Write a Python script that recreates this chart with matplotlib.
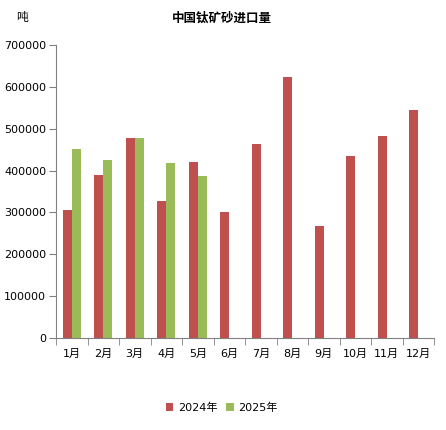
import matplotlib
matplotlib.use('Agg')
import matplotlib.pyplot as plt
import numpy as np

plt.rcParams['font.family'] = ['DejaVu Sans', 'Noto Sans CJK SC']

#
# Monthly import of titanium ore sand (tonnes)
#
months = ['1月', '2月', '3月', '4月', '5月', '6月',
          '7月', '8月', '9月', '10月', '11月', '12月']
imp2024 = [306000, 390000, 478000, 328000, 421000, 301000,
           463000, 623000, 268000, 435000, 482000, 544000]
imp2025 = [452000, 425000, 478000, 418000, 387000]

red = '#C0504D'
green = '#9BBB59'
gray = '#808080'

fig = plt.figure(figsize=(4.46, 4.30), dpi=100)
ax = fig.add_axes([56/446, 1 - 338/430, 378/446, 293/430])

x = np.arange(len(months))
w = 0.285
ax.bar(x - w/2, imp2024, w, color=red, label='2024年')
ax.bar(x[:len(imp2025)] + w/2, imp2025, w, color=green, label='2025年')

ax.set_xlim(-0.5, 11.5)
ax.set_ylim(0, 700000)
ax.set_yticks(np.arange(0, 700001, 100000))
ax.set_yticklabels(['%d' % v for v in np.arange(0, 700001, 100000)])

# category labels centred, tick marks between categories
ax.set_xticks(x)
ax.set_xticklabels(months)
ax.set_xticks(np.arange(-0.5, 12, 1), minor=True)
ax.tick_params(axis='x', which='major', length=0, pad=8, labelsize=8)
ax.tick_params(axis='x', which='minor', length=5, color=gray, direction='out')
ax.tick_params(axis='y', length=5, color=gray, labelsize=8, pad=2)

for s in ['top', 'right']:
    ax.spines[s].set_visible(False)
for s in ['left', 'bottom']:
    ax.spines[s].set_color(gray)

fig.text(0.497, 1 - 18/430, '中国钛矿砂进口量', ha='center', va='center',
         fontsize=9, fontweight='bold')
fig.text(22/446, 1 - 17/430, '吨', ha='center', va='center', fontsize=8.5)

fig.legend(loc='center', bbox_to_anchor=(0.497, 1 - 408/430), ncol=2,
           frameon=False, fontsize=8, handlelength=0.7, handleheight=0.7,
           handletextpad=0.4, columnspacing=0.8)

fig.savefig('out.png', dpi=100)
